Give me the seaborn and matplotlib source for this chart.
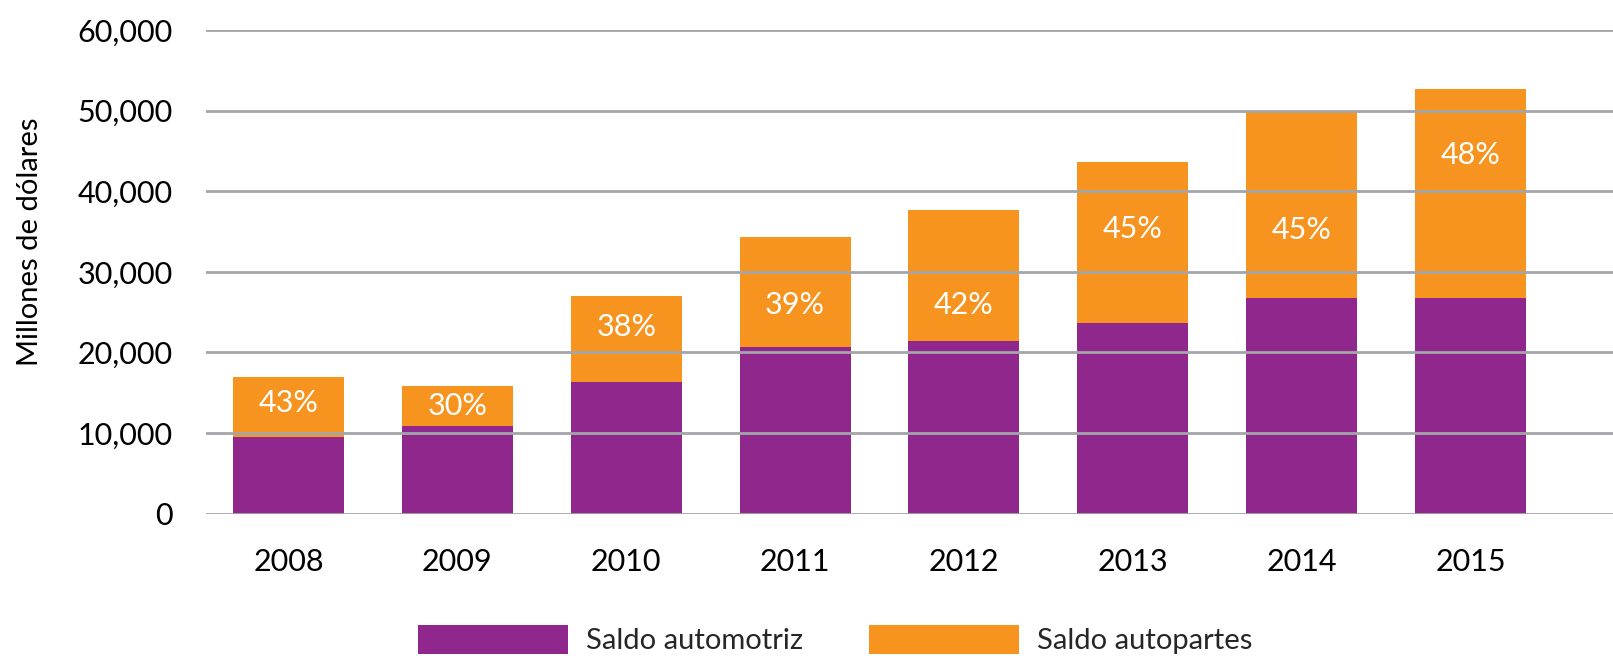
import pandas as pd
import matplotlib
matplotlib.use("Agg")
import matplotlib.pyplot as plt
import seaborn as sns

# Data (millones de dólares)
years = ["2008", "2009", "2010", "2011", "2012", "2013", "2014", "2015"]
saldo_automotriz = [9550, 10880, 16280, 20630, 21380, 23640, 26790, 26790]
saldo_autopartes = [7450, 4920, 10770, 13740, 16250, 19970, 23040, 25940]
pct_labels = ["43%", "30%", "38%", "39%", "42%", "45%", "45%", "48%"]
# height (data units) where each percentage label sits
pct_label_y = [13760, 13400, 23200, 25830, 25830, 35340, 35160, 44470]
y_ticks = [0, 10000, 20000, 30000, 40000, 50000, 60000]

purple = "#90278C"
orange = "#F6941F"
grid_col = "#A3A5A8"

sns.set_theme(style="white")
plt.rcParams["font.family"] = ["Lato", "DejaVu Sans"]

df = pd.DataFrame({
    "year": years,
    "automotriz": saldo_automotriz,
    "autopartes": saldo_autopartes,
})
df["total"] = df["automotriz"] + df["autopartes"]

fig = plt.figure(figsize=(16.13, 6.56), dpi=100)
ax = fig.add_axes([206 / 1613, 142.3 / 656, 1 - 206 / 1613, 483.7 / 656])

# stacked bars: total in orange, automotriz on top of it in purple
sns.barplot(data=df, x="year", y="total", color=orange, saturation=1,
            width=0.657, errorbar=None, label="Saldo autopartes", ax=ax,
            zorder=1, linewidth=0)
sns.barplot(data=df, x="year", y="automotriz", color=purple, saturation=1,
            width=0.657, errorbar=None, label="Saldo automotriz", ax=ax,
            zorder=1, linewidth=0)

# percentage labels
for i, (txt, yy) in enumerate(zip(pct_labels, pct_label_y)):
    ax.text(i, yy, txt, ha="center", va="center", color="white",
            fontsize=22, zorder=4)

ax.set_ylim(0, 60000)
ax.set_xlim(-0.4886, 7.844)
ax.set_yticks(y_ticks)
ax.set_yticklabels([f"{v:,}" for v in y_ticks])
# gridlines run over the bars in the original
ax.set_axisbelow(False)
ax.yaxis.grid(True, color=grid_col, linewidth=2, zorder=2)
for s in ax.spines.values():
    s.set_visible(False)
ax.tick_params(axis="y", length=0, pad=24, labelsize=22, labelcolor="black")
ax.tick_params(axis="x", length=0, pad=25, labelsize=22, labelcolor="black")
ax.set_xlabel("")
ax.set_ylabel("Millones de dólares", fontsize=21, color="black")
ax.yaxis.label.set_va("center")
ax.yaxis.set_label_coords(-0.125, 0.563)

# legend below, automotriz first
handles, labels = ax.get_legend_handles_labels()
if ax.legend_:
    ax.legend_.remove()
order = [labels.index("Saldo automotriz"), labels.index("Saldo autopartes")]
fig.legend([handles[i] for i in order], [labels[i] for i in order],
           loc="upper left", bbox_to_anchor=(418 / 1613, 1 - 625 / 656),
           ncol=2, frameon=False, fontsize=21, borderpad=0, borderaxespad=0,
           handlelength=5.14, handleheight=1.15, handletextpad=0.62,
           columnspacing=2.25)

fig.savefig("out.png", dpi=100)
